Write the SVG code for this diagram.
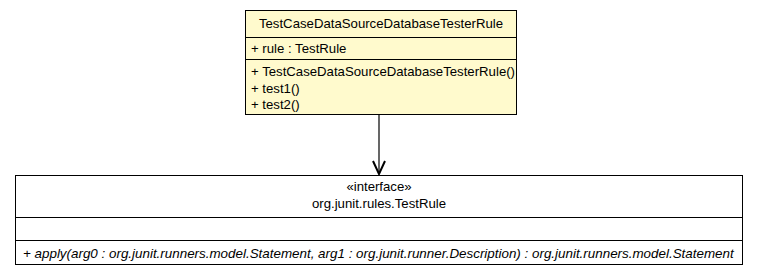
<svg xmlns="http://www.w3.org/2000/svg" width="757" height="277" viewBox="0 0 757 277">
  <defs>
    <style>
      .box { stroke: #000; stroke-width: 1; }
      .cls { fill: #fffacd; }
      .ifc { fill: #fff; }
      .sep { stroke: #000; stroke-width: 1; }
      text { font-family: "Liberation Sans", Arial, Helvetica, sans-serif; font-size: 13.2px; fill: #000; }
      .c { text-anchor: middle; }
      .i { font-style: italic; font-size: 13.4px; }
      .edge { stroke: #000; stroke-width: 1.2; fill: none; }
    </style>
    <marker id="open-arrow" markerWidth="16" markerHeight="14" refX="14" refY="7" orient="auto" markerUnits="userSpaceOnUse" viewBox="0 0 16 14">
      <path d="M1,1 L14,7 L1,13" fill="none" stroke="#000" stroke-width="2"/>
    </marker>
  </defs>

  <g id="TestCaseDataSourceDatabaseTesterRule">
    <rect class="box cls" x="245.5" y="10.5" width="271" height="104"/>
    <line class="sep" x1="245.5" y1="37.5" x2="516.5" y2="37.5"/>
    <line class="sep" x1="245.5" y1="59.5" x2="516.5" y2="59.5"/>
    <text class="c" x="381" y="28">TestCaseDataSourceDatabaseTesterRule</text>
    <text x="251" y="53">+ rule : TestRule</text>
    <text x="251" y="76">+ TestCaseDataSourceDatabaseTesterRule()</text>
    <text x="251" y="92.5">+ test1()</text>
    <text x="251" y="109">+ test2()</text>
  </g>

  <g id="TestRule">
    <rect class="box ifc" x="15.5" y="175.5" width="727" height="89"/>
    <line class="sep" x1="15.5" y1="217.5" x2="742.5" y2="217.5"/>
    <line class="sep" x1="15.5" y1="240.5" x2="742.5" y2="240.5"/>
    <text class="c" x="379" y="191">«interface»</text>
    <text class="c" x="379" y="208">org.junit.rules.TestRule</text>
    <text class="i" x="23" y="258">+ apply(arg0 : org.junit.runners.model.Statement, arg1 : org.junit.runner.Description) : org.junit.runners.model.Statement</text>
  </g>

  <g id="connectors">
    <line class="edge" x1="379" y1="115" x2="379" y2="174" marker-end="url(#open-arrow)"/>
  </g>
</svg>
